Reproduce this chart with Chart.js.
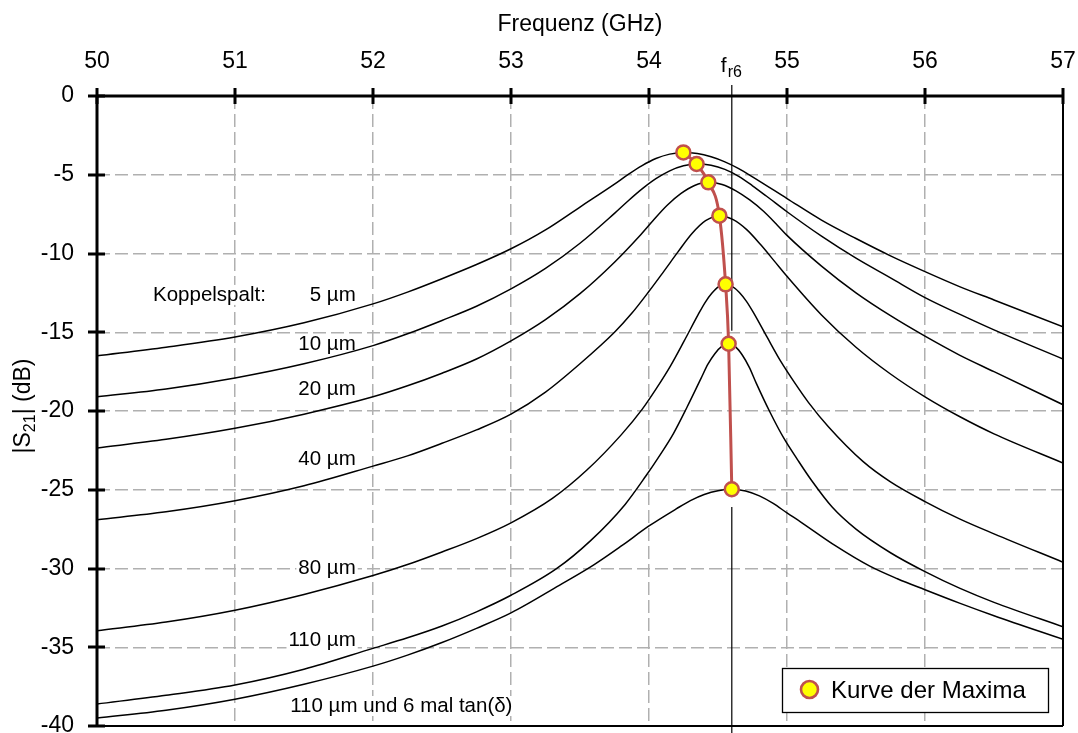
<!DOCTYPE html>
<html><head><meta charset="utf-8">
<script src="https://cdn.jsdelivr.net/npm/chart.js@4.4.1/dist/chart.umd.min.js"></script>
<style>
html,body{margin:0;padding:0;background:#fff;overflow:hidden}
#c{display:block}
</style></head><body>
<canvas id="c" width="1078" height="745"></canvas>
<script>
// ---- data (frequency GHz, |S21| dB) ----
const freqTicks = [50, 51, 52, 53, 54, 55, 56, 57];
const dbTicks = [0, -5, -10, -15, -20, -25, -30, -35, -40];
const gapLabels = ['5 µm', '10 µm', '20 µm', '40 µm', '80 µm', '110 µm', '110 µm und 6 mal tan(δ)'];

const spalt5 = [[50,-16.5],[50.5,-15.95],[51,-15.3],[51.5,-14.4],[52,-13.2],[52.25,-12.45],[52.5,-11.6],[52.75,-10.7],[53,-9.7],[53.25,-8.5],[53.5,-7.05],[53.75,-5.6],[53.85,-4.98],[53.95,-4.42],[54.05,-3.97],[54.15,-3.69],[54.25,-3.58],[54.35,-3.65],[54.45,-3.86],[54.55,-4.18],[54.65,-4.61],[54.75,-5.13],[55,-6.51],[55.25,-7.88],[55.5,-9.05],[55.75,-10.15],[56,-11.15],[56.25,-12.1],[56.5,-12.95],[57,-14.65]];
const spalt10 = [[50,-19.1],[50.5,-18.6],[51,-17.9],[51.5,-17.0],[52,-15.85],[52.25,-15.1],[52.5,-14.25],[52.75,-13.35],[53,-12.25],[53.25,-10.95],[53.5,-9.35],[53.75,-7.45],[53.85,-6.65],[53.95,-5.9],[54.05,-5.25],[54.15,-4.75],[54.25,-4.43],[54.345,-4.32],[54.45,-4.4],[54.55,-4.66],[54.65,-5.1],[54.75,-5.7],[54.85,-6.35],[55,-7.35],[55.25,-8.9],[55.5,-10.3],[55.75,-11.55],[56,-12.8],[56.25,-13.85],[56.5,-14.85],[57,-16.7]];
const spalt20 = [[50,-22.35],[50.5,-21.8],[51,-21.1],[51.5,-20.2],[52,-19.1],[52.25,-18.4],[52.5,-17.6],[52.75,-16.7],[53,-15.55],[53.25,-14.2],[53.5,-12.55],[53.75,-10.55],[53.93,-8.9],[54.03,-7.9],[54.13,-6.95],[54.23,-6.2],[54.33,-5.68],[54.43,-5.48],[54.53,-5.62],[54.63,-6.02],[54.73,-6.6],[54.83,-7.32],[54.93,-8.2],[55,-8.85],[55.25,-10.8],[55.5,-12.5],[55.75,-13.95],[56,-15.25],[56.25,-16.45],[56.5,-17.5],[57,-19.6]];
const spalt40 = [[50,-26.9],[50.5,-26.4],[51,-25.7],[51.5,-24.75],[52,-23.5],[52.25,-22.85],[52.5,-22.05],[52.75,-21.2],[53,-20.2],[53.25,-18.8],[53.5,-17.0],[53.75,-15.0],[53.875,-13.8],[54,-12.4],[54.11,-11.1],[54.21,-9.9],[54.31,-8.75],[54.41,-7.92],[54.51,-7.6],[54.61,-7.85],[54.71,-8.5],[54.81,-9.45],[54.91,-10.5],[55,-11.45],[55.25,-13.9],[55.5,-15.95],[55.75,-17.65],[56,-19.1],[56.25,-20.35],[56.5,-21.45],[57,-23.3]];
const spalt80 = [[50,-33.95],[50.5,-33.4],[51,-32.65],[51.5,-31.65],[52,-30.45],[52.25,-29.75],[52.5,-28.95],[52.75,-28.1],[53,-27.1],[53.3,-25.55],[53.55,-23.75],[53.8,-21.5],[53.95,-19.9],[54.055,-18.55],[54.155,-17.15],[54.255,-15.55],[54.355,-13.9],[54.405,-13.13],[54.455,-12.53],[54.505,-12.1],[54.555,-11.96],[54.605,-12.1],[54.655,-12.47],[54.705,-13.02],[54.755,-13.72],[54.855,-15.3],[54.955,-16.85],[55.055,-18.2],[55.155,-19.45],[55.3,-21.0],[55.55,-23.2],[55.75,-24.5],[56,-25.75],[56.25,-26.85],[56.5,-27.8],[57,-29.6]];
const spalt110 = [[50,-38.6],[50.5,-38.05],[51,-37.4],[51.5,-36.4],[52,-35.07],[52.25,-34.4],[52.5,-33.65],[52.75,-32.75],[53,-31.7],[53.327,-30.03],[53.577,-28.23],[53.827,-25.93],[53.977,-24.13],[54.077,-22.83],[54.177,-21.43],[54.277,-19.73],[54.377,-17.93],[54.427,-17.03],[54.477,-16.36],[54.527,-15.9],[54.577,-15.73],[54.627,-15.93],[54.677,-16.46],[54.727,-17.23],[54.777,-18.23],[54.877,-20.08],[54.977,-21.73],[55.077,-23.1],[55.177,-24.4],[55.327,-26.1],[55.5,-27.5],[55.75,-29.0],[56,-30.2],[56.25,-31.25],[56.5,-32.15],[57,-33.7]];
const spalt110tan6 = [[50,-39.5],[50.5,-39.0],[51,-38.3],[51.5,-37.35],[52,-36.2],[52.25,-35.5],[52.5,-34.7],[52.75,-33.8],[53,-32.82],[53.35,-31.07],[53.6,-29.77],[53.8,-28.57],[54,-27.3],[54.2,-26.2],[54.3,-25.69],[54.4,-25.3],[54.5,-25.06],[54.6,-24.97],[54.7,-25.08],[54.8,-25.39],[54.9,-25.87],[55,-26.47],[55.1,-27.05],[55.35,-28.55],[55.6,-29.85],[55.8,-30.65],[56,-31.35],[56.25,-32.2],[56.5,-33.0],[57,-34.5]];
const maxima = [[54.249,-3.58],[54.345,-4.32],[54.43,-5.48],[54.51,-7.6],[54.555,-11.96],[54.577,-15.73],[54.6,-24.97]];
const fr6 = 54.6;
const fr6UpperSpan = [0.7, -14.9];
const fr6LowerSpan = [-26.1, -41.5];

const curves = [spalt5, spalt10, spalt20, spalt40, spalt80, spalt110, spalt110tan6];
const toXY = arr => arr.map(p => ({x: p[0], y: p[1]}));

const FONT = '"Liberation Sans", Arial, sans-serif';
Chart.defaults.font.family = FONT;
Chart.defaults.color = '#000';

const RED = '#C0504D';

// label placement (style): frequency / dB anchors
const labelPlaces = [
  {t: 'Koppelspalt:', f: 50.406, d: -12.63, a: 'left'},
  {t: gapLabels[0], f: 51.875, d: -12.63, a: 'right'},
  {t: gapLabels[1], f: 51.875, d: -15.75, a: 'right'},
  {t: gapLabels[2], f: 51.875, d: -18.6, a: 'right'},
  {t: gapLabels[3], f: 51.875, d: -23.05, a: 'right'},
  {t: gapLabels[4], f: 51.875, d: -29.97, a: 'right'},
  {t: gapLabels[5], f: 51.875, d: -34.54, a: 'right'},
  {t: gapLabels[6], f: 51.4, d: -38.73, a: 'left'}
];

const decor = {
  id: 'decor',
  beforeDatasetsDraw(chart) {
    const {ctx, scales: {x, y}} = chart;
    ctx.save();
    ctx.font = '20.5px ' + FONT;
    ctx.textBaseline = 'middle';
    for (const L of labelPlaces) {
      const px = x.getPixelForValue(L.f), py = y.getPixelForValue(L.d);
      const w = ctx.measureText(L.t).width;
      const left = L.a === 'left' ? px : px - w;
      ctx.fillStyle = '#fff';
      ctx.fillRect(left - 2, py - 10, w + 4, 20);
      ctx.fillStyle = '#000';
      ctx.textAlign = 'left';
      ctx.fillText(L.t, left, py);
    }
    ctx.restore();
  },
  afterDatasetsDraw(chart) {
    const {ctx, chartArea: a, scales: {x, y}} = chart;
    ctx.save();
    ctx.strokeStyle = '#000';
    ctx.lineCap = 'butt';
    ctx.lineWidth = 2;
    ctx.beginPath();
    ctx.moveTo(a.right, a.top); ctx.lineTo(a.right, a.bottom);
    ctx.moveTo(a.left, a.bottom); ctx.lineTo(a.right, a.bottom);
    ctx.stroke();
    ctx.lineWidth = 3;
    ctx.beginPath();
    ctx.moveTo(a.left, a.top); ctx.lineTo(a.right + 1, a.top);
    ctx.moveTo(a.left, a.top); ctx.lineTo(a.left, a.bottom);
    ctx.stroke();
    ctx.beginPath();
    for (const f of freqTicks) {
      const px = Math.round(x.getPixelForValue(f));
      ctx.moveTo(px, a.top - 8); ctx.lineTo(px, a.top + 8);
    }
    for (const d of dbTicks) {
      const py = Math.round(y.getPixelForValue(d));
      ctx.moveTo(a.left - 9, py); ctx.lineTo(a.left + 8, py);
    }
    ctx.stroke();
    ctx.restore();
  },
  afterDraw(chart) {
    const {ctx, scales: {x, y}} = chart;
    ctx.save();
    const fx = x.getPixelForValue(fr6);
    ctx.fillStyle = '#000';
    ctx.textBaseline = 'alphabetic';
    ctx.textAlign = 'left';
    ctx.font = '21px ' + FONT;
    const fW = ctx.measureText('f').width;
    ctx.fillText('f', fx - 11, 72);
    ctx.font = '16px ' + FONT;
    ctx.fillText('r6', fx - 11 + fW + 1, 77);
    const parts = [['|S', 23, 0], ['21', 16, 5], ['| (dB)', 23, 0]];
    let total = 0;
    for (const p of parts) { ctx.font = p[1] + 'px ' + FONT; total += ctx.measureText(p[0]).width; }
    ctx.translate(30, 406);
    ctx.rotate(-Math.PI / 2);
    let cx = -total / 2;
    for (const p of parts) {
      ctx.font = p[1] + 'px ' + FONT;
      ctx.fillText(p[0], cx, p[2]);
      cx += ctx.measureText(p[0]).width;
    }
    ctx.setTransform(1, 0, 0, 1, 0, 0);
    ctx.fillStyle = '#fff';
    ctx.fillRect(782, 668, 267, 45);
    ctx.strokeStyle = '#000';
    ctx.lineWidth = 1.3;
    ctx.strokeRect(782.5, 668.5, 266, 44);
    ctx.beginPath();
    ctx.arc(809.5, 689.5, 8.5, 0, Math.PI * 2);
    ctx.fillStyle = '#FFFF00';
    ctx.fill();
    ctx.lineWidth = 2.6;
    ctx.strokeStyle = RED;
    ctx.stroke();
    ctx.fillStyle = '#000';
    ctx.font = '24px ' + FONT;
    ctx.textBaseline = 'middle';
    ctx.fillText(chart.data.datasets[0].label, 831, 691);
    ctx.restore();
  }
};

const datasets = [
  {
    label: 'Kurve der Maxima',
    data: toXY(maxima),
    borderColor: RED,
    borderWidth: 3,
    backgroundColor: '#FFFF00',
    pointBackgroundColor: '#FFFF00',
    pointBorderColor: RED,
    pointBorderWidth: 2.5,
    pointRadius: 7,
    cubicInterpolationMode: 'monotone',
    clip: false
  },
  {
    label: 'fr6 oben',
    data: fr6UpperSpan.map(v => ({x: fr6, y: v})),
    borderColor: '#000', borderWidth: 1.2, pointRadius: 0, clip: false
  },
  {
    label: 'fr6 unten',
    data: fr6LowerSpan.map(v => ({x: fr6, y: v})),
    borderColor: '#000', borderWidth: 1.2, pointRadius: 0, clip: false
  }
];
curves.forEach((c, i) => datasets.push({
  label: gapLabels[i],
  data: toXY(c),
  borderColor: '#000',
  borderWidth: 1.5,
  pointRadius: 0,
  cubicInterpolationMode: 'monotone'
}));

new Chart(document.getElementById('c'), {
  type: 'line',
  data: {datasets},
  options: {
    responsive: false,
    devicePixelRatio: 1,
    animation: false,
    events: [],
    layout: {padding: {left: 0, right: 15, top: 0, bottom: 19}},
    plugins: {legend: {display: false}, tooltip: {enabled: false}},
    scales: {
      x: {
        type: 'linear', position: 'top', min: 50, max: 57,
        afterBuildTicks: s => { s.ticks = freqTicks.map(v => ({value: v})); },
        afterFit: s => { s.height = 96; s.paddingLeft = 0; s.paddingRight = 0; },
        ticks: {padding: 21, font: {size: 23}, color: '#000'},
        grid: {color: '#b0b0b0', lineWidth: 1.5, drawTicks: false, borderDash: [13, 5]},
        border: {display: false, dash: [13, 5]},
        title: {display: true, text: 'Frequenz (GHz)', font: {size: 23}, color: '#000', padding: {top: 11, bottom: 0}}
      },
      y: {
        type: 'linear', min: -40, max: 0,
        afterBuildTicks: s => { s.ticks = dbTicks.map(v => ({value: v})); },
        afterFit: s => { s.width = 97; s.paddingTop = 0; s.paddingBottom = 0; },
        ticks: {padding: 23, font: {size: 23}, color: '#000'},
        grid: {color: '#b0b0b0', lineWidth: 1.5, drawTicks: false, borderDash: [13, 5]},
        border: {display: false, dash: [13, 5]}
      }
    }
  },
  plugins: [decor]
});
</script>
</body></html>
